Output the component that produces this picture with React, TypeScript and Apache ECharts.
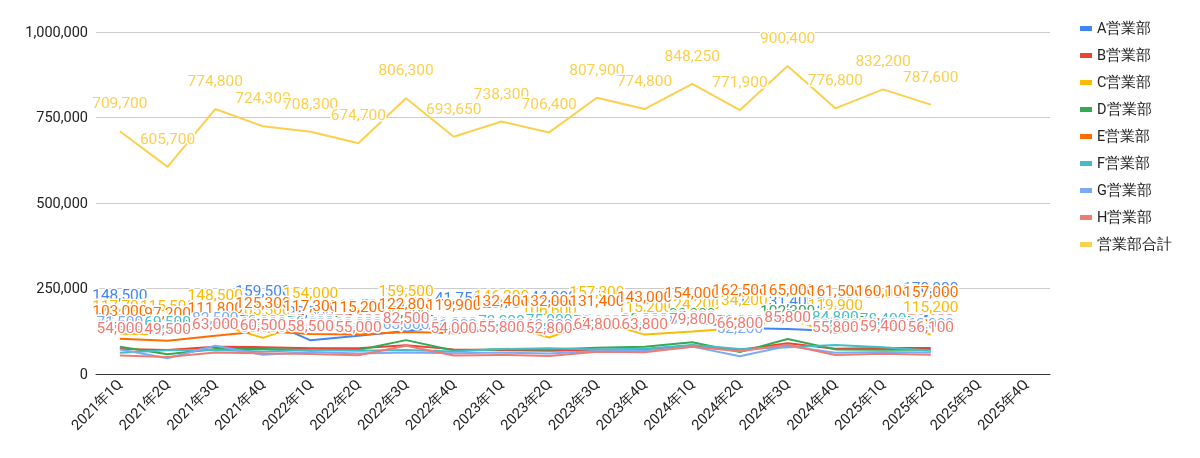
import React, { useEffect, useRef } from "react";
import * as echarts from "echarts";

const categories = [
  "2021年1Q", "2021年2Q", "2021年3Q", "2021年4Q",
  "2022年1Q", "2022年2Q", "2022年3Q", "2022年4Q",
  "2023年1Q", "2023年2Q", "2023年3Q", "2023年4Q",
  "2024年1Q", "2024年2Q", "2024年3Q", "2024年4Q",
  "2025年1Q", "2025年2Q", "2025年3Q", "2025年4Q",
];

const seriesNames = ["A営業部", "B営業部", "C営業部", "D営業部", "E営業部", "F営業部", "G営業部", "H営業部", "営業部合計"];

const salesA = [148500, 117000, 146000, 159500, 98500, 112000, 125500, 141750, 125700, 144300, 157000, 143000, 154000, 134000, 131400, 126000, 160000, 170000];
const salesB = [73000, 70000, 80000, 78500, 75000, 75000, 84000, 72000, 70000, 68000, 70000, 72000, 83000, 71000, 90000, 74000, 76000, 76000];
const salesC = [117700, 115500, 148500, 105500, 154000, 119500, 159500, 118000, 146200, 106600, 157300, 115200, 124200, 134200, 160000, 119900, 155000, 115200];
const salesD = [80000, 58000, 73000, 73000, 70500, 70000, 99000, 69000, 72400, 72000, 77000, 80000, 93000, 64000, 102300, 72000, 71000, 71000];
const salesE = [103000, 97200, 111800, 125300, 117300, 115200, 122800, 119900, 132400, 132000, 131400, 143000, 154000, 162500, 165000, 161500, 160100, 157000];
const salesF = [62000, 69500, 70000, 66000, 70000, 68000, 70000, 66000, 73200, 75000, 72000, 74000, 85000, 73000, 78000, 84800, 78400, 68000];
const salesG = [71500, 46000, 82500, 56000, 64500, 60000, 63000, 61000, 62600, 60000, 67500, 67000, 80000, 52200, 82000, 62000, 64000, 63000];
const salesH = [54000, 49500, 63000, 60500, 58500, 55000, 82500, 54000, 55800, 52800, 64800, 63800, 79800, 66800, 85800, 55800, 59400, 56100];
const salesTotal = [709700, 605700, 774800, 724300, 708300, 674700, 806300, 693650, 738300, 706400, 807900, 774800, 848250, 771900, 900400, 776800, 832200, 787600];

const yTicks = [0, 250000, 500000, 750000, 1000000];

const colors = ["#4285f4", "#ea4335", "#fbbc04", "#34a853", "#ff6d01", "#46bdc6", "#7baaf7", "#f07b72", "#fcd04f"];

const FONT = "Roboto, Arial, sans-serif";
const fmt = (v: number) => v.toLocaleString("en-US");

export default function App() {
  const ref = useRef<HTMLDivElement>(null);

  useEffect(() => {
    if (!ref.current) return;
    const chart = echarts.init(ref.current, undefined, { renderer: "svg" });
    const allValues = [salesA, salesB, salesC, salesD, salesE, salesF, salesG, salesH, salesTotal];
    const series = seriesNames.map((name, k) => ({
      name,
      type: "line",
      data: allValues[k],
      color: colors[k],
      lineStyle: { width: 2, color: colors[k] },
      itemStyle: { color: colors[k] },
      symbol: "circle",
      symbolSize: 0,
      showSymbol: true,
      showAllSymbol: true,
      emphasis: { disabled: true },
      label: {
        show: true,
        position: "top",
        distance: 20,
        color: colors[k],
        fontSize: 15.5,
        fontFamily: FONT,
        textBorderColor: "#ffffff",
        textBorderWidth: 3,
        formatter: (p: any) => fmt(p.value),
      },
    }));

    chart.setOption({
      animation: false,
      textStyle: { fontFamily: FONT },
      grid: { left: 96, right: 150, top: 32, bottom: 84 },
      legend: {
        orient: "vertical",
        left: 1075,
        top: 16,
        itemWidth: 12,
        itemHeight: 5,
        itemGap: 12,
        icon: "rect",
        data: seriesNames,
        textStyle: { fontSize: 14.5, color: "#222", fontFamily: FONT },
      },
      xAxis: {
        type: "category",
        data: categories,
        boundaryGap: true,
        axisLine: { show: true, lineStyle: { color: "#333", width: 1 } },
        axisTick: { show: false },
        axisLabel: { interval: 0, rotate: 45, fontSize: 14.5, color: "#222", margin: 8, fontFamily: FONT },
        splitLine: { show: false },
      },
      yAxis: {
        type: "value",
        min: yTicks[0],
        max: yTicks[yTicks.length - 1],
        interval: yTicks[1] - yTicks[0],
        axisLine: { show: false },
        axisTick: { show: false },
        axisLabel: { fontSize: 14.5, color: "#222", margin: 8, fontFamily: FONT, formatter: (v: number) => fmt(v) },
        splitLine: { show: true, lineStyle: { color: "#cccccc", width: 1 } },
      },
      series,
    });
    return () => chart.dispose();
  }, []);

  return <div ref={ref} style={{ position: "fixed", left: 0, top: 0, width: 1200, height: 458 }} />;
}
